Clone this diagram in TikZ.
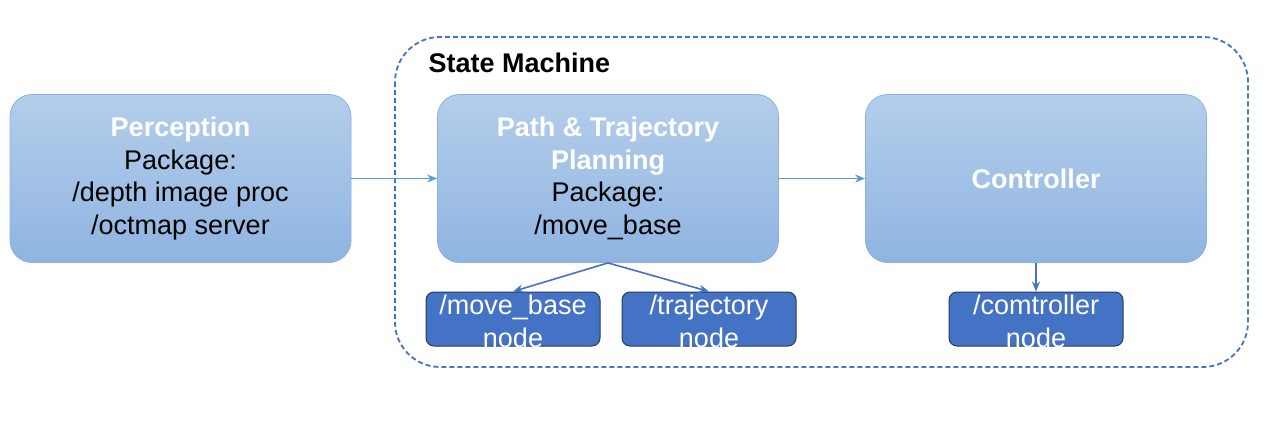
\documentclass[tikz,border=0pt]{standalone}
\usepackage{fontspec}
\setmainfont{Liberation Sans}
\usepackage{xcolor}
\usepackage{tikz}
\usetikzlibrary{arrows.meta}

\definecolor{boxtop}{HTML}{B4CEEB}
\definecolor{boxbot}{HTML}{8FB4E1}
\definecolor{boxline}{HTML}{8AB1E2}
\definecolor{nodeblue}{HTML}{4472C4}
\definecolor{nodeline}{HTML}{2B3A57}
\definecolor{flowblue}{HTML}{5B9BD5}

\tikzset{
	bigbox/.style={rounded corners=22pt, top color=boxtop, bottom color=boxbot,
		draw=boxline, line width=0.8pt, minimum width=341pt, minimum height=168pt,
		align=center, font=\fontsize{27}{32.5}\selectfont},
	subbox/.style={rounded corners=8pt, fill=nodeblue, draw=nodeline, line width=1pt,
		minimum width=174pt, minimum height=54pt},
	subtext/.style={text=white, align=center, font=\fontsize{27}{33}\selectfont},
	flow/.style={flowblue, line width=1.6pt, -{Stealth[length=10pt,width=8pt]}},
	down/.style={nodeblue, line width=1.6pt, -{Stealth[length=10pt,width=8pt]}}
}
\newcommand{\boxtitle}[1]{\textcolor{white}{\textbf{#1}}}

\begin{document}
\begin{tikzpicture}[x=1pt,y=-1pt]
\useasboundingbox (0,0) rectangle (1268,420);

% state machine frame
\draw[nodeblue, line width=1.8pt, dash pattern=on 5pt off 3pt, rounded corners=45pt]
	(395,37) rectangle (1248,367);
\node[anchor=west, font=\fontsize{27}{32}\selectfont\bfseries] (smtitle) at (425,63) {State Machine};

% main blocks
\node[bigbox] (perception) at (180.5,178.5) {\boxtitle{Perception}\\Package:\\/depth image proc\\/octmap server};
\node[bigbox] (planning) at (608,178.5) {\boxtitle{Path \& Trajectory}\\\boxtitle{Planning}\\Package:\\/move\_base};
\node[bigbox] (controller) at (1036,178.5) {\boxtitle{Controller}};

% ros nodes
\node[subbox] (movebase) at (513,319) {};
\node[subtext] (movebasetxt) at (513,321) {/move\_base\\node};
\node[subbox] (trajectory) at (709,319) {};
\node[subtext] (trajectorytxt) at (709,321) {/trajectory\\node};
\node[subbox] (comtroller) at (1036,319) {};
\node[subtext] (comtrollertxt) at (1036,321) {/comtroller\\node};

% connectors
\draw[flow] (perception.east) -- (planning.west);
\draw[flow] (planning.east) -- (controller.west);
\draw[down] (planning.south) -- (movebase.north);
\draw[down] (planning.south) -- (trajectory.north);
\draw[down] (controller.south) -- (comtroller.north);

\end{tikzpicture}
\end{document}
